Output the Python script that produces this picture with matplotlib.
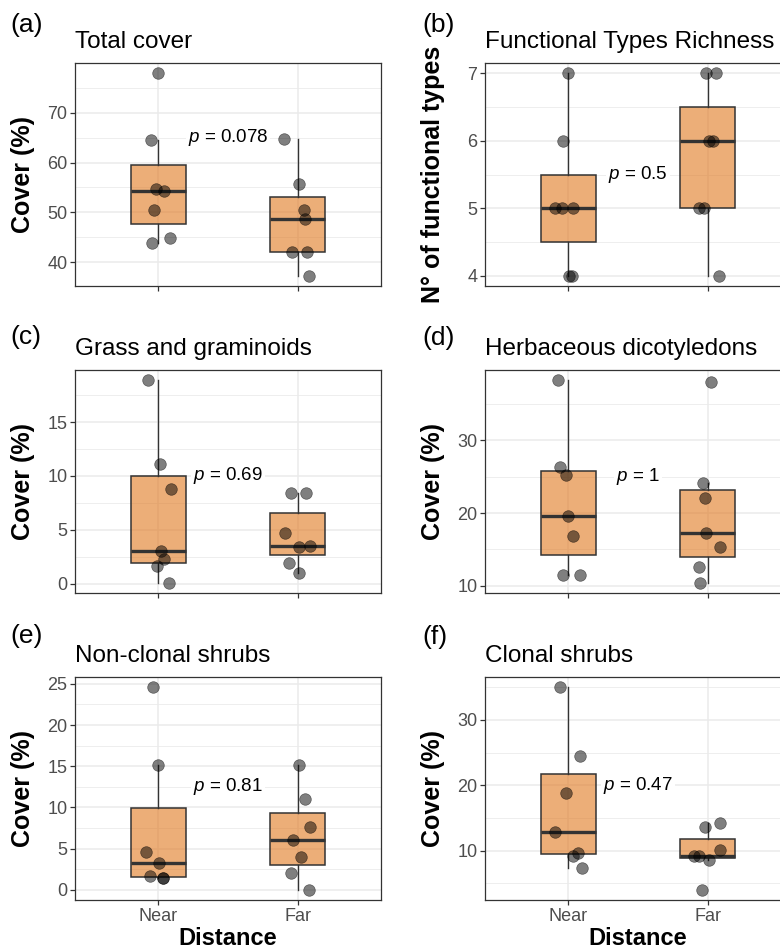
import matplotlib
matplotlib.use("Agg")
import matplotlib.pyplot as plt
from matplotlib.ticker import MultipleLocator, AutoMinorLocator
import numpy as np

plt.rcParams["font.family"] = ["Liberation Sans", "DejaVu Sans"]
plt.rcParams["mathtext.fontset"] = "custom"
plt.rcParams["mathtext.it"] = "Liberation Sans:italic"
plt.rcParams["mathtext.rm"] = "Liberation Sans"

# ─── DATA ───────────────────────────────────────────────────
groups = ["Near", "Far"]

total_near = [77.9, 64.6, 54.6, 54.3, 50.4, 44.9, 43.9]
total_near_jit = [0.0, -0.055, -0.017, 0.043, -0.029, 0.083, -0.048]
total_far = [64.8, 55.7, 50.4, 48.6, 42.1, 42.1, 37.3]
total_far_jit = [-0.095, 0.012, 0.048, 0.052, -0.038, 0.069, 0.081]

rich_near = [7, 6, 5, 5, 5, 4, 4]
rich_near_jit = [0.0, -0.036, -0.10, -0.048, 0.031, 0.005, 0.024]
rich_far = [7, 7, 6, 6, 5, 5, 4]
rich_far_jit = [-0.012, 0.064, 0.012, 0.036, -0.06, -0.024, 0.083]

grass_near = [18.9, 11.1, 8.8, 3.04, 2.27, 1.6, 0.06]
grass_near_jit = [-0.076, 0.012, 0.088, 0.017, 0.043, -0.012, 0.076]
grass_far = [8.38, 8.38, 4.66, 3.42, 3.5, 1.86, 1.0]
grass_far_jit = [-0.05, 0.06, -0.09, 0.012, 0.093, -0.06, 0.012]

herb_near = [38.3, 26.4, 25.2, 19.6, 16.9, 11.5, 11.5]
herb_near_jit = [-0.076, -0.06, -0.017, 0.0, 0.031, -0.04, 0.083]
herb_far = [38.1, 24.2, 22.1, 17.2, 15.4, 12.6, 10.4]
herb_far_jit = [0.024, -0.036, -0.017, -0.012, 0.088, -0.064, -0.055]

ncs_near = [24.6, 15.2, 4.6, 3.2, 1.7, 1.5, 1.4]
ncs_near_jit = [-0.04, 0.0, -0.088, 0.007, -0.064, 0.031, 0.036]
ncs_far = [15.2, 11.0, 7.6, 6.0, 4.0, 2.0, 0.0]
ncs_far_jit = [0.012, 0.052, 0.088, -0.031, 0.024, -0.05, 0.081]

clon_near = [35.0, 24.5, 18.8, 12.9, 9.7, 9.2, 7.4]
clon_near_jit = [-0.06, 0.083, -0.019, -0.1, 0.071, 0.036, 0.095]
clon_far = [13.6, 14.3, 10.1, 9.2, 9.2, 8.5, 4.0]
clon_far_jit = [-0.017, 0.09, 0.09, -0.095, -0.06, 0.012, -0.043]

panel_tags = ["(a)", "(b)", "(c)", "(d)", "(e)", "(f)"]
titles = ["Total cover", "Functional Types Richness", "Grass and graminoids",
          "Herbaceous dicotyledons", "Non-clonal shrubs", "Clonal shrubs"]
ylabels = ["Cover (%)", "N° of functional types", "Cover (%)",
           "Cover (%)", "Cover (%)", "Cover (%)"]
p_labels = ["0.078", "0.5", "0.69", "1", "0.81", "0.47"]
p_label_y = [65, 5.5, 10, 25, 12.5, 20]
major_step = [10, 1, 5, 10, 5, 10]

series = [
    (total_near, total_near_jit, total_far, total_far_jit),
    (rich_near, rich_near_jit, rich_far, rich_far_jit),
    (grass_near, grass_near_jit, grass_far, grass_far_jit),
    (herb_near, herb_near_jit, herb_far, herb_far_jit),
    (ncs_near, ncs_near_jit, ncs_far, ncs_far_jit),
    (clon_near, clon_near_jit, clon_far, clon_far_jit),
]

# ─── LAYOUT (pixels on a 780x951 canvas) ────────────────────
W, H = 780, 951
fig = plt.figure(figsize=(W / 100, H / 100), dpi=100)
col_left = [75, 485]
row_top = [63, 370, 677]
ax_w, ax_h = 306, 223
tag_pos = [(10, 25), (422, 25), (10, 337), (422, 338), (10, 636), (422, 637)]

EDGE = "#333333"
GRID = "#EBEBEB"

for i in range(6):
    r, c = divmod(i, 2)
    x0, y0 = col_left[c], row_top[r]
    ax = fig.add_axes([x0 / W, 1 - (y0 + ax_h) / H, ax_w / W, ax_h / H])
    near, near_j, far, far_j = series[i]

    # boxes
    bp = ax.boxplot([near, far], positions=[1, 2], widths=0.4, whis=1.5,
                    showfliers=False, showcaps=False, patch_artist=True,
                    zorder=2)
    for b in bp["boxes"]:
        b.set_facecolor((0.878, 0.471, 0.122, 0.6))
        b.set_edgecolor(EDGE)
        b.set_linewidth(1.1)
    for w in bp["whiskers"]:
        w.set_color(EDGE)
        w.set_linewidth(1.0)
    for m in bp["medians"]:
        m.set_color(EDGE)
        m.set_linewidth(2.4)

    # jittered points
    xs = np.concatenate([1 + np.array(near_j), 2 + np.array(far_j)])
    ys = np.concatenate([near, far])
    ax.scatter(xs, ys, s=70, color="black", alpha=0.5,
               edgecolors="black", linewidths=0.5, zorder=3)

    # p label
    ax.text(1.5, p_label_y[i], f"$p$ = {p_labels[i]}", ha="center",
            va="center", fontsize=13.5, zorder=4,
            bbox=dict(facecolor="white", edgecolor="none", pad=1.5))

    # axes limits with ggplot-like expansion
    allv = np.array(ys, dtype=float)
    rng = allv.max() - allv.min()
    ax.set_ylim(allv.min() - 0.05 * rng, allv.max() + 0.05 * rng)
    ax.set_xlim(0.4, 2.6)

    ax.yaxis.set_major_locator(MultipleLocator(major_step[i]))
    ax.yaxis.set_minor_locator(AutoMinorLocator(2))
    ax.set_xticks([1, 2])
    ax.grid(which="major", color=GRID, linewidth=1.1, zorder=0)
    ax.grid(which="minor", axis="y", color=GRID, linewidth=0.6, zorder=0)
    ax.set_axisbelow(True)

    for s in ax.spines.values():
        s.set_color(EDGE)
        s.set_linewidth(0.9)
    ax.tick_params(which="major", length=3.5, width=0.9, color=EDGE,
                   labelsize=13, labelcolor="#4D4D4D", pad=2)
    ax.tick_params(which="minor", length=0)

    if r == 2:
        ax.set_xticklabels(groups)
        ax.set_xlabel("Distance", fontsize=17, fontweight="bold", labelpad=2)
    else:
        ax.set_xticklabels([])

    ax.set_ylabel(ylabels[i], fontsize=18, fontweight="bold")
    ax.yaxis.set_label_coords(-0.131, 0.5)
    ax.set_title(titles[i], loc="left", fontsize=17.5, pad=11)

    tx, ty = tag_pos[i]
    fig.text(tx / W, 1 - ty / H, panel_tags[i], fontsize=19,
             ha="left", va="center")

fig.savefig("out.png", dpi=100)
